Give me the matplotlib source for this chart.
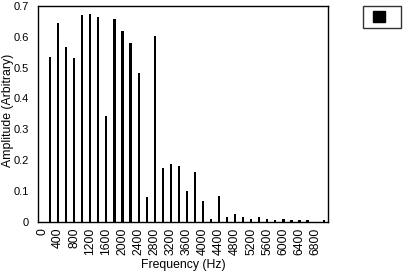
import matplotlib
matplotlib.use("Agg")
import matplotlib.pyplot as plt
from matplotlib.patches import Patch, Rectangle
from matplotlib.legend_handler import HandlerPatch

plt.rcParams['font.family'] = ['Liberation Sans', 'DejaVu Sans']

freqs = [0, 200, 400, 600, 800, 1000, 1200, 1400, 1600, 1800, 2000, 2200,
         2400, 2600, 2800, 3000, 3200, 3400, 3600, 3800, 4000, 4200, 4400,
         4600, 4800, 5000, 5200, 5400, 5600, 5800, 6000, 6200, 6400, 6600,
         6800, 7000]
amplitude = [0.0, 0.535, 0.645, 0.567, 0.531, 0.671, 0.674, 0.665, 0.342,
             0.658, 0.619, 0.580, 0.483, 0.078, 0.603, 0.174, 0.186, 0.180,
             0.098, 0.160, 0.067, 0.008, 0.082, 0.015, 0.024, 0.015, 0.009,
             0.015, 0.007, 0.005, 0.007, 0.005, 0.005, 0.005, 0.0, 0.005]
ytick_vals = [0, 0.1, 0.2, 0.3, 0.4, 0.5, 0.6, 0.7]
ytick_labels = ["0", "0.1", "0.2", "0.3", "0.4", "0.5", "0.6", "0.7"]

fig = plt.figure(figsize=(4.06, 2.74), dpi=100)
ax = fig.add_axes([38/406, 1-221.5/274, (327.7-38)/406, (221.5-6)/274])

pos = list(range(len(freqs)))
ax.bar(pos, amplitude, width=0.27, color='black')
ax.set_xlim(-0.5, len(freqs) - 0.5)
ax.set_ylim(0, 0.7)
ax.set_yticks(ytick_vals)
ax.set_yticklabels(ytick_labels)
ax.set_xticks(pos[::2])
ax.set_xticklabels([str(f) for f in freqs[::2]], rotation=90)
ax.tick_params(axis='both', length=0)
ax.tick_params(axis='x', pad=4.5, labelsize=8.8)
ax.tick_params(axis='y', pad=6.5, labelsize=8)
for s in ax.spines.values():
    s.set_linewidth(1.0)
    s.set_color('black')
ax.set_xlabel("Frequency (Hz)", fontsize=8.8)
ax.xaxis.set_label_coords(0.5, (221.5 - 259) / 215.5)
ax.set_ylabel("Amplitude (Arbitrary)", fontsize=8.8)
ax.yaxis.set_label_coords((14 - 38) / 289.7, 0.517)


def square(legend, orig_handle, xdescent, ydescent, width, height, fontsize):
    return Rectangle((-xdescent + 0.42 * fontsize, -ydescent), height, height)


fs = 9.36
leg = fig.legend([Patch(facecolor='black', edgecolor='black')], [""],
                 loc='upper left', bbox_to_anchor=(363/406, 1-6/274),
                 frameon=True, fancybox=False, fontsize=fs,
                 handlelength=2.25, handleheight=1.0, borderpad=0.35,
                 handletextpad=0.0, borderaxespad=0,
                 handler_map={Patch: HandlerPatch(patch_func=square)})
leg.get_frame().set_edgecolor('black')
leg.get_frame().set_linewidth(1.0)

fig.savefig("out.png", dpi=100)
